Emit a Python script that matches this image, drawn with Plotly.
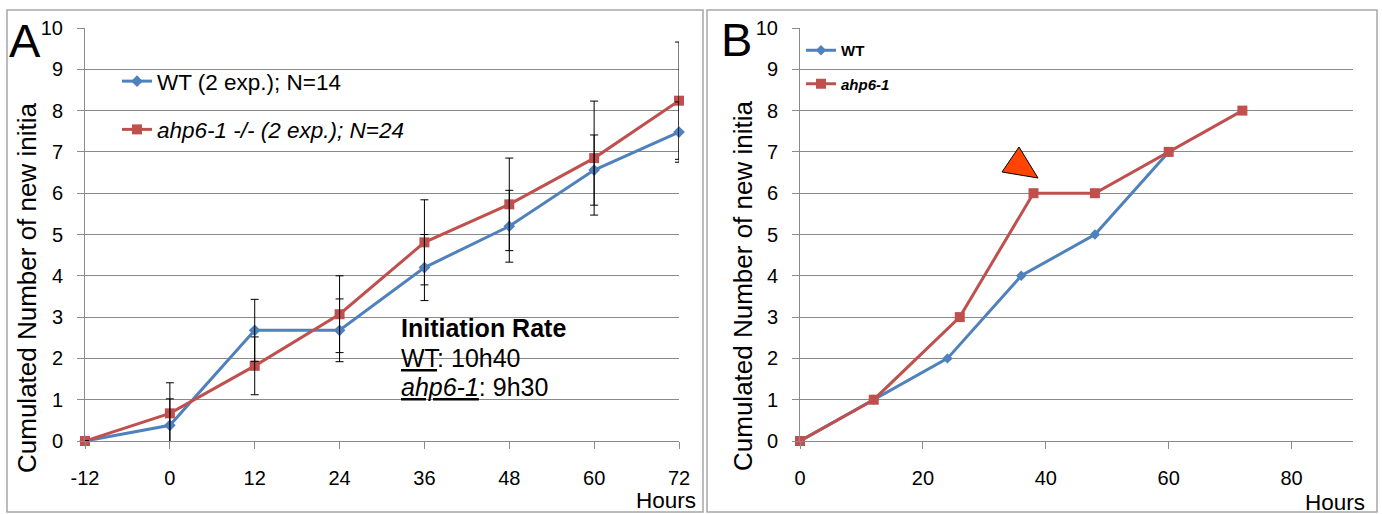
import plotly.graph_objects as go

# ---------------- data ----------------
hours_a = [-12, 0, 12, 24, 36, 48, 60, 72]
wt_a = [0, 0.38, 2.68, 2.68, 4.2, 5.2, 6.56, 7.48]
wt_a_err = [0, 0.64, 0.75, 0.76, 0.8, 0.87, 0.85, 0.73]
ahp_a = [0, 0.67, 1.82, 3.07, 4.81, 5.73, 6.85, 8.24]
ahp_a_err = [0, 0.74, 0.7, 0.93, 1.03, 1.12, 1.38, 1.42]

hours_b_wt = [0, 12, 24, 36, 48, 60]
wt_b = [0, 1, 2, 4, 5, 7]
hours_b_ahp = [0, 12, 26, 38, 48, 60, 72]
ahp_b = [0, 1, 3, 6, 6, 7, 8]

ticks_a = [-12, 0, 12, 24, 36, 48, 60, 72]
ticklabels_a = ["-12", "0", "12", "24", "36", "48", "60", "72"]
ticks_b = [0, 20, 40, 60, 80]
ticks_y = list(range(0, 11))

name_wt_a = "WT (2 exp.); N=14"
name_ahp_a = "<i>ahp6-1 -/- (2 exp.); N=24</i>"
name_wt_b = "<b>WT</b>"
name_ahp_b = "<b><i>ahp6-1</i></b>"

rate_lines = ["<b>Initiation Rate</b>", "<u>WT</u>: 10h40", "<u><i>ahp6-1</i></u>: 9h30"]

BLUE = "#4F81BD"
RED = "#C0504D"
GRID = "#8A8A8A"
FONT = "Liberation Sans, Arial, sans-serif"
W, H = 1382, 514


def px(x):
    return x / W


def py(y):
    return 1 - y / H


fig = go.Figure()

# Panel A: lines + markers
fig.add_trace(go.Scatter(
    x=hours_a, y=wt_a, name=name_wt_a, mode="lines+markers",
    line=dict(color=BLUE, width=3),
    marker=dict(symbol="diamond", size=9, color=BLUE),
    xaxis="x", yaxis="y", legend="legend", legendgroup="a1", cliponaxis=False,
))
fig.add_trace(go.Scatter(
    x=hours_a, y=ahp_a, name=name_ahp_a, mode="lines+markers",
    line=dict(color=RED, width=3),
    marker=dict(symbol="square", size=10, color=RED),
    xaxis="x", yaxis="y", legend="legend", legendgroup="a2", cliponaxis=False,
))
# Panel A: error bars (clipped to the plot area, drawn above the lines)
for xs, ys, errs in [(hours_a, wt_a, wt_a_err), (hours_a, ahp_a, ahp_a_err)]:
    fig.add_trace(go.Scatter(
        x=xs, y=ys, mode="markers", marker=dict(size=1, opacity=0),
        error_y=dict(type="data", array=errs, color="black", thickness=1, width=4),
        xaxis="x", yaxis="y", showlegend=False, hoverinfo="skip", cliponaxis=True,
    ))

# Panel B
fig.add_trace(go.Scatter(
    x=hours_b_wt, y=wt_b, name=name_wt_b, mode="lines+markers",
    line=dict(color=BLUE, width=3),
    marker=dict(symbol="diamond", size=8, color=BLUE),
    xaxis="x2", yaxis="y2", legend="legend2", legendgroup="b1", cliponaxis=False,
))
fig.add_trace(go.Scatter(
    x=hours_b_ahp, y=ahp_b, name=name_ahp_b, mode="lines+markers",
    line=dict(color=RED, width=3),
    marker=dict(symbol="square", size=10, color=RED),
    xaxis="x2", yaxis="y2", legend="legend2", legendgroup="b2", cliponaxis=False,
))

ydom = [py(441), py(28)]
axis_common = dict(
    showline=True, linecolor=GRID, linewidth=1,
    ticks="outside", ticklen=7, tickcolor=GRID, tickwidth=1,
    tickfont=dict(family=FONT, size=20, color="black"),
    zeroline=False, automargin=False,
)

fig.update_layout(
    template="none",
    width=W, height=H,
    margin=dict(l=0, r=0, t=0, b=0, pad=0, autoexpand=False),
    paper_bgcolor="white", plot_bgcolor="white",
    font=dict(family=FONT, color="black"),
    xaxis=dict(domain=[px(85), px(679)], range=[-12, 72], tickvals=ticks_a,
               ticktext=ticklabels_a,
               showgrid=False, anchor="y", ticklabelstandoff=12, **axis_common),
    yaxis=dict(domain=ydom, range=[0, 10], tickvals=ticks_y, showgrid=True,
               gridcolor=GRID, gridwidth=1, anchor="x", ticklabelstandoff=10,
               **axis_common),
    xaxis2=dict(domain=[px(800), px(1353)], range=[0, 90], tickvals=ticks_b,
                showgrid=False, anchor="y2", ticklabelstandoff=12, **axis_common),
    yaxis2=dict(domain=ydom, range=[0, 10], tickvals=ticks_y, showgrid=True,
                gridcolor=GRID, gridwidth=1, anchor="x2", ticklabelstandoff=10,
                **axis_common),
    legend=dict(x=px(117), y=py(60), xanchor="left", yanchor="top",
                font=dict(family=FONT, size=22.5, color="black"),
                bgcolor="rgba(0,0,0,0)", tracegroupgap=16, itemwidth=30,
                borderwidth=0),
    legend2=dict(x=px(801), y=py(34), xanchor="left", yanchor="top",
                 font=dict(family=FONT, size=15, color="black"),
                 bgcolor="rgba(0,0,0,0)", tracegroupgap=11, itemwidth=30,
                 borderwidth=0),
    showlegend=True,
)

annotations = [
    dict(text="A", x=px(7), y=py(41), xanchor="left", yanchor="middle",
         font=dict(family=FONT, size=47)),
    dict(text="B", x=px(719), y=py(40), xanchor="left", yanchor="middle",
         font=dict(family=FONT, size=47)),
    dict(text="Cumulated Number of new initia", textangle=-90,
         x=px(27), y=py(288), xanchor="center", yanchor="middle",
         font=dict(family=FONT, size=26)),
    dict(text="Cumulated Number of new initia", textangle=-90,
         x=px(743), y=py(286), xanchor="center", yanchor="middle",
         font=dict(family=FONT, size=26)),
    dict(text="Hours", x=px(698), y=py(500), xanchor="right", yanchor="middle",
         font=dict(family=FONT, size=22.5)),
    dict(text="Hours", x=px(1367), y=py(502), xanchor="right", yanchor="middle",
         font=dict(family=FONT, size=22.5)),
]
for i, line in enumerate(rate_lines):
    annotations.append(dict(text=line, x=px(399), y=py(328 + 29.5 * i),
                            xanchor="left", yanchor="middle", align="left",
                            font=dict(family=FONT, size=25)))
for a in annotations:
    a.update(xref="paper", yref="paper", showarrow=False)
fig.update_layout(annotations=annotations)

BORDER = "#A6A6A6"
shapes = [
    dict(type="rect", x0=px(7), x1=px(703), y0=py(512), y1=py(10),
         line=dict(color=BORDER, width=1.5)),
    dict(type="rect", x0=px(707), x1=px(1377), y0=py(512), y1=py(10),
         line=dict(color=BORDER, width=1.5)),
    dict(type="path",
         path=f"M {px(1019)} {py(147)} L {px(1002)} {py(172)} L {px(1038)} {py(178)} Z",
         fillcolor="#FF4500", line=dict(color="black", width=1)),
]
for s in shapes:
    s.update(xref="paper", yref="paper", layer="above")
fig.update_layout(shapes=shapes)

fig.write_html("out.html",
               config={"displayModeBar": False},
               post_script="document.body.style.margin='0px';"
                           "document.body.style.overflow='hidden';")
